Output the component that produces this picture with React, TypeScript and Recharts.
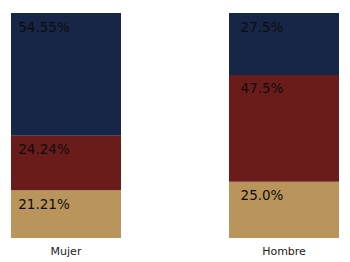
import React from 'react';
import { BarChart, Bar, XAxis, YAxis, LabelList } from 'recharts';

const categories = ['Mujer', 'Hombre'];
const bajo = [21.21, 25.0];
const medio = [24.24, 47.5];
const alto = [54.55, 27.5];

const data = categories.map((name, i) => ({
  name,
  bajo: bajo[i],
  medio: medio[i],
  alto: alto[i],
}));

const COLORS = {
  bajo: '#ba955b',
  medio: '#6a1c1b',
  alto: '#172546',
};

// python-style float repr: 25 -> "25.0"
const fmt = (v: number) => (Number.isInteger(v) ? v.toFixed(1) : String(v)) + '%';

const SegmentLabel = (props: any) => {
  const { x, y, width, value } = props;
  return (
    <text
      x={Number(x) + Number(width) / 2 - 22}
      y={Number(y) + 13.5}
      textAnchor="middle"
      dominantBaseline="central"
      fontSize={13.5}
      fontFamily="DejaVu Sans"
      fill="#0d0d0d"
    >
      {fmt(Number(value))}
    </text>
  );
};

const App: React.FC = () => {
  return (
    <div style={{ position: 'absolute', left: 0, top: 0, width: 350, height: 262, background: '#fff' }}>
      <BarChart
        width={350}
        height={262}
        data={data}
        margin={{ top: 13, right: -43, left: -43, bottom: 0 }}
        barSize={110}
      >
        <XAxis
          dataKey="name"
          axisLine={false}
          tickLine={false}
          height={24}
          tickMargin={3}
          tick={{ fontSize: 11, fill: '#222', fontFamily: 'DejaVu Sans' }}
        />
        <YAxis hide domain={[0, 100]} />
        {(['bajo', 'medio', 'alto'] as const).map((key) => (
          <Bar key={key} dataKey={key} stackId="a" fill={COLORS[key]} isAnimationActive={false}>
            <LabelList dataKey={key} content={SegmentLabel} />
          </Bar>
        ))}
      </BarChart>
    </div>
  );
};

export default App;
